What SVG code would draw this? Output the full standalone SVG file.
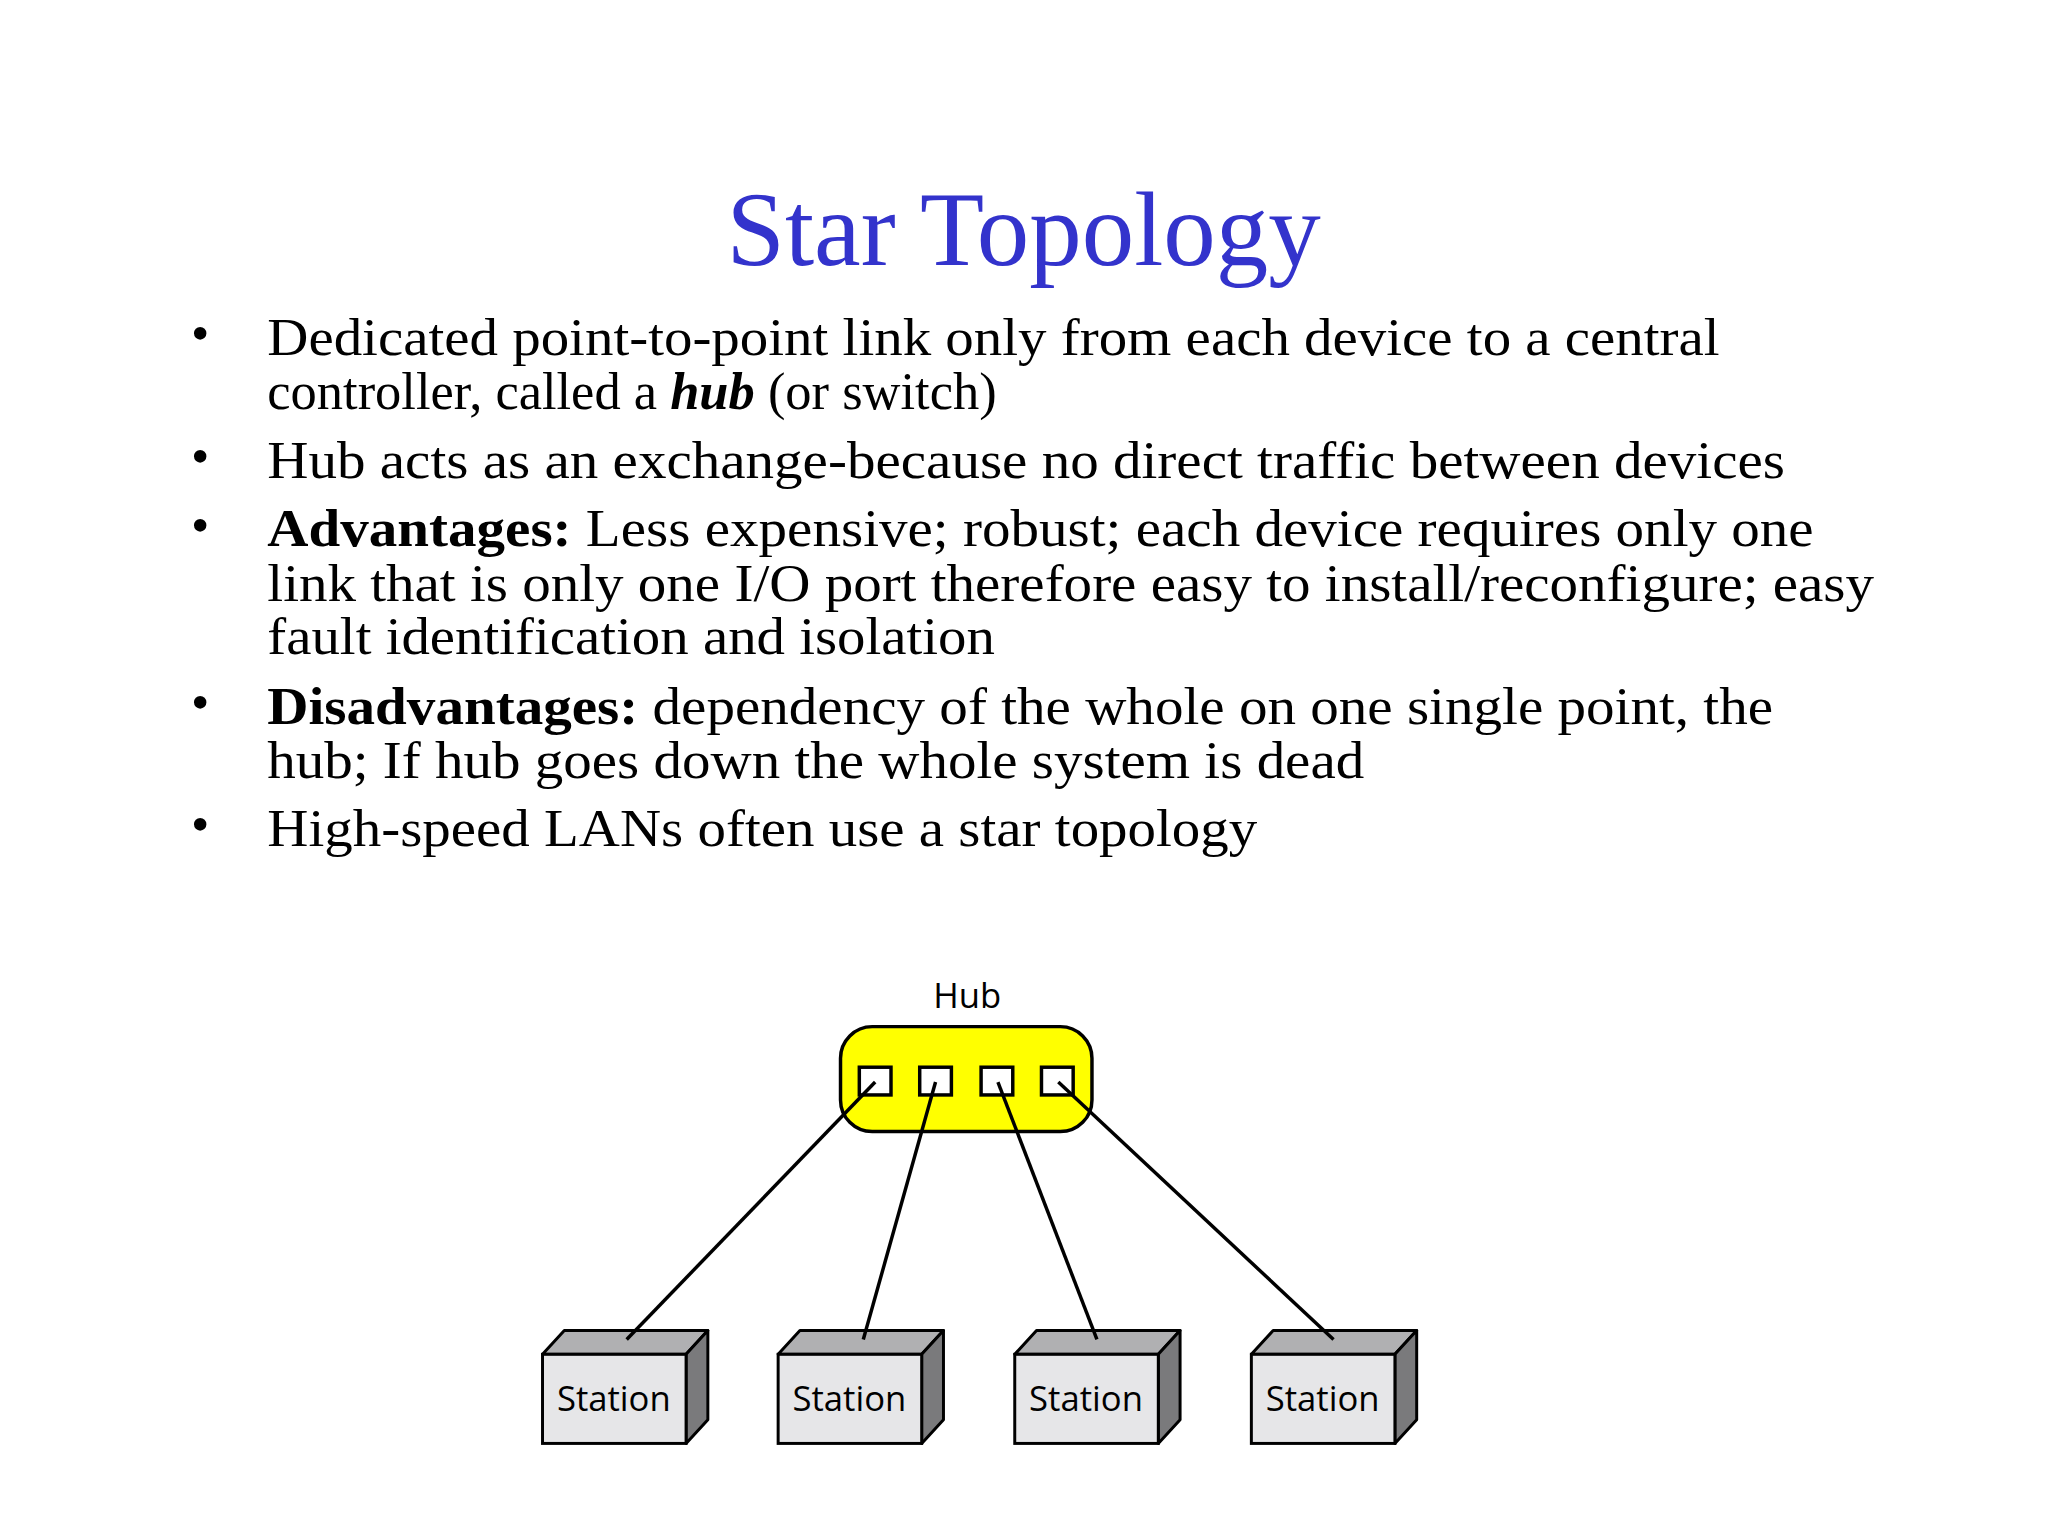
<svg xmlns="http://www.w3.org/2000/svg" width="2048" height="1536" viewBox="0 0 2048 1536">
<style>
.t{font-family:"Liberation Serif","Times New Roman",serif;font-size:53px;fill:#000}
.b{font-weight:bold}
.s{font-family:"Open Sans","Noto Sans",sans-serif;font-size:35px;fill:#000;text-anchor:middle}
.front{fill:#e6e6e8;stroke:#000;stroke-width:3}
.top{fill:#b0b0b2;stroke:#000;stroke-width:3;stroke-linejoin:round}
.side{fill:#7a7a7c;stroke:#000;stroke-width:3;stroke-linejoin:round}
.port{fill:#fff;stroke:#000;stroke-width:3.5}
.link{stroke:#000;stroke-width:3.5;fill:none}
</style>
<defs>
<g id="st">
<polygon class="top" points="0,24 22,0 167,0 145,24"/>
<polygon class="side" points="145,24 167,0 167,90 145,114"/>
<rect class="front" x="0" y="24" width="145" height="90"/>
</g>
</defs>
<rect width="2048" height="1536" fill="#fff"/>
<g transform="scale(0.99)">
<g id="title"><text x="1034" y="268" font-family="Liberation Serif,serif" font-size="106" fill="#3333CC" text-anchor="middle">Star Topology</text></g>
<g id="bullets">
<text class="t" x="193" y="355">•</text><text class="t" x="270" y="359" textLength="1467" lengthAdjust="spacingAndGlyphs">Dedicated point-to-point link only from each device to a central</text>
<text class="t" x="270" y="413">controller, called a <tspan font-weight="bold" font-style="italic">hub</tspan> (or switch)</text>
<text class="t" x="193" y="479">•</text><text class="t" x="270" y="483" textLength="1533" lengthAdjust="spacingAndGlyphs">Hub acts as an exchange-because no direct traffic between devices</text>
<text class="t" x="193" y="548">•</text><text class="t" x="270" y="552" textLength="1562" lengthAdjust="spacingAndGlyphs"><tspan class="b">Advantages:</tspan> Less expensive; robust; each device requires only one</text>
<text class="t" x="270" y="607" textLength="1623" lengthAdjust="spacingAndGlyphs">link that is only one I/O port therefore easy to install/reconfigure; easy</text>
<text class="t" x="270" y="661" textLength="735" lengthAdjust="spacingAndGlyphs">fault identification and isolation</text>
<text class="t" x="193" y="727">•</text><text class="t" x="270" y="731" textLength="1521" lengthAdjust="spacingAndGlyphs"><tspan class="b">Disadvantages:</tspan> dependency of the whole on one single point, the</text>
<text class="t" x="270" y="786" textLength="1108" lengthAdjust="spacingAndGlyphs">hub; If hub goes down the whole system is dead</text>
<text class="t" x="193" y="851">•</text><text class="t" x="270" y="855" textLength="1000" lengthAdjust="spacingAndGlyphs">High-speed LANs often use a star topology</text>
</g>
<g id="hub">
<text class="s" x="977" y="1018">Hub</text>
<rect x="849" y="1037" width="254" height="106" rx="32" fill="#ffff00" stroke="#000" stroke-width="3.5"/>
<rect class="port" x="868" y="1078" width="32" height="28"/>
<rect class="port" x="929" y="1078" width="32" height="28"/>
<rect class="port" x="991" y="1078" width="32" height="28"/>
<rect class="port" x="1052" y="1078" width="32" height="28"/>
</g>
<g id="station1"><use href="#st" x="548" y="1344"/><text class="s" x="620" y="1425">Station</text></g>
<g id="station2"><use href="#st" x="786" y="1344"/><text class="s" x="858" y="1425">Station</text></g>
<g id="station3"><use href="#st" x="1025" y="1344"/><text class="s" x="1097" y="1425">Station</text></g>
<g id="station4"><use href="#st" x="1264" y="1344"/><text class="s" x="1336" y="1425">Station</text></g>
<g id="connectors">
<line class="link" x1="884" y1="1093" x2="633" y2="1353"/>
<line class="link" x1="945" y1="1093" x2="872" y2="1353"/>
<line class="link" x1="1008" y1="1093" x2="1108" y2="1353"/>
<line class="link" x1="1069" y1="1093" x2="1347" y2="1353"/>
</g>
</g>
</svg>
